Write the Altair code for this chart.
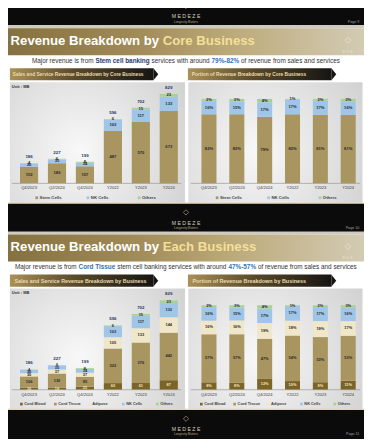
import altair as alt
import pandas as pd

# ---------------- data ----------------
periods = ["Q4/2023", "Q2/2024", "Q4/2024", "Y2022", "Y2023", "Y2024"]

core_series = ["Stem Cells", "NK Cells", "Others"]
core_stem_cells = [152, 186, 157, 487, 570, 673]
core_nk_cells = [30, 35, 34, 103, 117, 133]
core_others = [4, 6, 8, 6, 15, 23]
core_totals = [186, 227, 199, 596, 702, 829]
core_pct_stem_cells = ["82%", "82%", "79%", "82%", "81%", "81%"]
core_pct_nk_cells = ["16%", "15%", "17%", "17%", "17%", "16%"]
core_pct_others = ["2%", "3%", "4%", "1%", "2%", "3%"]

each_series = ["Cord Blood", "Cord Tissue", "Adipose", "NK Cells", "Others"]
each_cord_blood = [16, 19, 25, 60, 61, 87]
each_cord_tissue = [106, 130, 95, 322, 376, 442]
each_adipose = [30, 37, 37, 105, 133, 144]
each_nk_cells = [30, 35, 34, 103, 117, 133]
each_others = [4, 6, 8, 6, 15, 23]
each_totals = [186, 227, 199, 596, 702, 829]
each_pct_cord_blood = ["8%", "8%", "12%", "10%", "9%", "11%"]
each_pct_cord_tissue = ["57%", "57%", "47%", "54%", "53%", "53%"]
each_pct_adipose = ["16%", "16%", "19%", "18%", "19%", "17%"]
each_pct_nk_cells = ["16%", "15%", "17%", "17%", "17%", "16%"]
each_pct_others = ["2%", "3%", "4%", "1%", "2%", "3%"]

# ---------------- layout helpers ----------------
W, H = 356, 431
SX, SY = W / 372, H / 447
SF = min(SX, SY)
def X(v): return round(v * SX, 2)
def Y(v): return round(v * SY, 2)
def F(v): return round(v * SF, 2)

FONT = "Liberation Sans"
one = pd.DataFrame({"k": [0]})

REG = {c: 556 for c in "0123456789"}
REG.update({" ": 278, "%": 889, "-": 333, ".": 278, ":": 278, "/": 278})
REG.update(dict(zip("ABCDEFGHIJKLMNOPQRSTUVWXYZ",
    [667,667,722,722,667,611,778,722,278,500,667,556,833,722,778,667,778,722,667,611,722,667,944,667,667,611])))
REG.update(dict(zip("abcdefghijklmnopqrstuvwxyz",
    [556,556,500,556,556,278,556,556,222,222,500,222,833,556,556,556,556,333,500,278,556,500,722,500,500,500])))
BOLD = {c: 556 for c in "0123456789"}
BOLD.update({" ": 278, "%": 889, "-": 333, ".": 278, ":": 333, "/": 278})
BOLD.update(dict(zip("ABCDEFGHIJKLMNOPQRSTUVWXYZ",
    [722,722,722,722,667,611,778,722,278,556,722,611,833,722,778,667,778,722,667,611,722,667,944,667,667,611])))
BOLD.update(dict(zip("abcdefghijklmnopqrstuvwxyz",
    [556,611,556,611,556,333,611,611,278,278,556,278,889,611,611,611,611,389,556,333,611,556,778,556,556,500])))

def em(s, bold):
    t = BOLD if bold else REG
    return sum(t.get(c, 556) for c in s) / 1000.0

def rect(x0, x1, y0, y1, fill):
    return alt.Chart(one).mark_rect(fill=fill).encode(
        x=alt.value(X(x0)), x2=alt.value(X(x1)), y=alt.value(Y(y0)), y2=alt.value(Y(y1)))

def text(x, y, s, size, color, bold=False, align="left", baseline="middle", opacity=1):
    return alt.Chart(one).mark_text(text=s, font=FONT, fontSize=F(size), color=color,
        fontWeight="bold" if bold else "normal", align=align, baseline=baseline, opacity=opacity).encode(
        x=alt.value(X(x)), y=alt.value(Y(y)))

def rich(segments, y, size, cx=None, xl=None, baseline="middle"):
    fs = F(size)
    widths = [em(t, b) * fs for t, b, c in segments]
    x = X(cx) - sum(widths) / 2 if cx is not None else X(xl)
    out = []
    for (t, b, c), w in zip(segments, widths):
        lead = len(t) - len(t.lstrip(" "))
        out.append(alt.Chart(one).mark_text(text=t.strip(" "), font=FONT, fontSize=fs, color=c,
            fontWeight="bold" if b else "normal", align="left", baseline=baseline).encode(
            x=alt.value(round(x + em(" " * lead, b) * fs, 2)), y=alt.value(Y(y))))
        x += w
    return out

def grad(stops, x1=0, x2=1, y1=0, y2=0):
    return alt.LinearGradient(gradient="linear", x1=x1, x2=x2, y1=y1, y2=y2,
        stops=[alt.GradientStop(offset=o, color=c) for o, c in stops])

C_STEM, C_NK, C_OTH, C_CB, C_AD = "#a8955f", "#9fc5e8", "#a9d18e", "#7b6426", "#f0e7c8"
NAVY = "#1f3864"

GOLD_BAR = grad([(0, "#85713f"), (0.35, "#a08a57"), (0.62, "#bba978"), (1, "#d3cbb4")])
ARROW = grad([(0, "#ab9057"), (0.45, "#5a4a2a"), (1, "#161513")])
PANEL = alt.RadialGradient(gradient="radial", x1=0.4, y1=0.55, r1=0, x2=0.4, y2=0.55, r2=0.8,
    stops=[alt.GradientStop(offset=0, color="#f8f8f8"), alt.GradientStop(offset=1, color="#cdcdcd")])

layers = []

def black_band(y0, y1, icon_y, page):
    L = [rect(0, 372, y0, y1, "#0b0b0b")]
    L.append(alt.Chart(one).mark_point(shape="diamond", filled=False, color="#cdbf95", size=F(5.5) ** 2,
        strokeWidth=0.8).encode(x=alt.value(X(186)), y=alt.value(Y(icon_y))))
    L.append(text(186, icon_y + 10.5, "M E D E Z E", 5.4, "#d9d0bb", align="center"))
    L.append(text(186, icon_y + 16, "Longevity Matters", 3.2, "#b4a585", align="center"))
    L.append(text(367, icon_y + 16, page, 3.8, "#a0a0a0", align="right"))
    return L

def slide_header(off, gold_word, seg_sub, arrows):
    L = [rect(0, 372, 18 + off, 21 + off, "#cfcbc0"), rect(0, 372, 21 + off, 49 + off, GOLD_BAR)]
    L += rich([("Revenue Breakdown by ", True, "#ffffff"), (gold_word, True, "#f4df9a")],
              38.5 + off, 13.75, xl=2.7, baseline="alphabetic")
    L.append(alt.Chart(one).mark_point(shape="diamond", filled=False, color="#efe7cf", size=F(6) ** 2,
        strokeWidth=0.8, opacity=0.8).encode(x=alt.value(X(355)), y=alt.value(Y(33.5 + off))))
    L.append(text(355, 45.5 + off, "E D E", 4, "#efe7cf", align="center", opacity=0.8))
    L += rich(seg_sub, 54.5 + off, 6.68, cx=186)
    for (x0, t, x_t, w_t) in arrows:
        L.append(rect(x0, x0 + 150, 62.5 + off, 75 + off, ARROW))
        L.append(alt.Chart(one).mark_point(shape="M0,-1L0.8,0L0,1Z", filled=True, color="#161513",
            size=F(12.5) ** 2, opacity=1).encode(x=alt.value(X(x0 + 150)), y=alt.value(Y(68.75 + off))))
        fs = w_t / em(t, True)
        L.append(text(x_t, 69 + off, t, fs, "#eadcb0", bold=True))
    return L

def value_chart(series, cols, colors, tcolors, totals, off, lab_size):
    rows = []
    for i, p in enumerate(periods):
        for j, s in enumerate(series):
            rows.append({"cat": p, "series": s, "ord": j, "value": cols[j][i], "label": str(cols[j][i])})
    df = pd.DataFrame(rows)
    xs = alt.Scale(type="band", domain=periods, range=[X(7.4), X(182.6)], paddingInner=0.35, paddingOuter=0.175)
    ys = alt.Scale(domain=[0, 829], range=[Y(181.7 + off), Y(89.3 + off)], nice=False, zero=True)
    base = alt.Chart(df).transform_stack(stack="value", groupby=["cat"],
        sort=[alt.SortField(field="ord", order="ascending")], as_=["y0", "y1"]).transform_calculate(
        mid="(datum.y0 + datum.y1) / 2")
    L = [base.mark_bar().encode(
        x=alt.X("cat:N", scale=xs, axis=None), y=alt.Y("y0:Q", scale=ys, axis=None), y2="y1:Q",
        color=alt.Color("series:N", scale=alt.Scale(domain=series, range=colors), legend=None))]
    L.append(base.mark_text(font=FONT, fontSize=F(lab_size), fontWeight="bold").encode(
        x=alt.X("cat:N", scale=xs, axis=None), y=alt.Y("mid:Q", scale=ys, axis=None), text="label:N",
        color=alt.Color("series:N", scale=alt.Scale(domain=series, range=tcolors), legend=None)))
    tdf = pd.DataFrame({"cat": periods, "total": totals})
    L.append(alt.Chart(tdf).mark_text(font=FONT, fontSize=F(4.6), fontWeight="bold", color=NAVY,
        dy=-F(6.5)).encode(x=alt.X("cat:N", scale=xs, axis=None),
        y=alt.Y("total:Q", scale=ys, axis=None), text="total:Q"))
    L.append(alt.Chart(pd.DataFrame({"cat": periods})).mark_text(font=FONT, fontSize=F(4.3),
        color="#3a3a3a").encode(x=alt.X("cat:N", scale=xs, axis=None), y=alt.value(Y(187 + off)), text="cat:N"))
    return L

def pct_chart(series, cols, pcts, colors, tcolors, off, lab_size):
    rows = []
    for i, p in enumerate(periods):
        for j, s in enumerate(series):
            rows.append({"cat": p, "series": s, "ord": j, "value": cols[j][i], "label": pcts[j][i]})
    df = pd.DataFrame(rows)
    xs = alt.Scale(type="band", domain=periods, range=[X(195.45), X(370.05)], paddingInner=0.46, paddingOuter=0.23)
    ys = alt.Scale(domain=[0, 1], range=[Y(181.7 + off), Y(94.3 + off)], nice=False, zero=True)
    base = alt.Chart(df).transform_stack(stack="value", groupby=["cat"], offset="normalize",
        sort=[alt.SortField(field="ord", order="ascending")], as_=["y0", "y1"]).transform_calculate(
        mid="(datum.y0 + datum.y1) / 2")
    L = [base.mark_bar().encode(
        x=alt.X("cat:N", scale=xs, axis=None), y=alt.Y("y0:Q", scale=ys, axis=None), y2="y1:Q",
        color=alt.Color("series:N", scale=alt.Scale(domain=series, range=colors), legend=None))]
    L.append(base.mark_text(font=FONT, fontSize=F(lab_size), fontWeight="bold").encode(
        x=alt.X("cat:N", scale=xs, axis=None), y=alt.Y("mid:Q", scale=ys, axis=None), text="label:N",
        color=alt.Color("series:N", scale=alt.Scale(domain=series, range=tcolors), legend=None)))
    L.append(alt.Chart(pd.DataFrame({"cat": periods})).mark_text(font=FONT, fontSize=F(4.3),
        color="#3a3a3a").encode(x=alt.X("cat:N", scale=xs, axis=None), y=alt.value(Y(187 + off)), text="cat:N"))
    return L

def legend(series, colors, x0, x1, y, size):
    d = pd.DataFrame({"series": series})
    xs = alt.Scale(type="point", domain=series, range=[X(x0), X(x1)], padding=0)
    cs = alt.Scale(domain=series, range=colors)
    return [
        alt.Chart(d).mark_square(size=F(2.8) ** 2, opacity=1).encode(
            x=alt.X("series:N", scale=xs, axis=None), y=alt.value(Y(y)),
            color=alt.Color("series:N", scale=cs, legend=None)),
        alt.Chart(d).mark_text(font=FONT, fontSize=F(size), fontWeight="bold", color="#444444",
            align="left", dx=F(3)).encode(x=alt.X("series:N", scale=xs, axis=None), y=alt.value(Y(y)),
            text="series:N"),
    ]

def panels(off):
    L = [rect(2, 185, 77 + off, 202 + off, PANEL), rect(188.5, 370.5, 77 + off, 202 + off, PANEL),
         rect(0, 372, 201.6 + off, 203 + off, "#e2d5ad")]
    for a, b in [(4, 181), (191, 368)]:
        L.append(alt.Chart(one).mark_rule(color="#9a9a9a", strokeWidth=0.7).encode(
            x=alt.value(X(a)), x2=alt.value(X(b)), y=alt.value(Y(181.9 + off))))
    L.append(text(4, 82 + off, "Unit : MB", 4.2, "#333333", bold=True))
    return L

# ---------------- slide 1 ----------------
layers += black_band(-11, 18, -2, "Page 9")
layers += slide_header(0, "Core Business",
    [("Major revenue is from ", False, "#333333"), ("Stem cell banking", True, "#1f3b73"),
     (" services with around ", False, "#333333"), ("79%-82%", True, "#2e74b5"),
     (" of revenue from sales and services", False, "#333333")],
    [(2, "Sales and Service Revenue Breakdown by Core Business", 5, 137),
     (188, "Portion of Revenue Breakdown by Core Business", 192, 120)])
layers += panels(0)
core_cols = [core_stem_cells, core_nk_cells, core_others]
core_pcts = [core_pct_stem_cells, core_pct_nk_cells, core_pct_others]
core_colors = [C_STEM, C_NK, C_OTH]
core_tcol = ["#2a2a2a", "#2a2a2a", "#2a2a2a"]
layers += value_chart(core_series, core_cols, core_colors, core_tcol, core_totals, 0, 4.3)
layers += pct_chart(core_series, core_cols, core_pcts, core_colors, core_tcol, 0, 4.3)
layers += legend(core_series, core_colors, 30, 137, 196.8, 4.5)
layers += legend(core_series, core_colors, 218.5, 326, 196.8, 4.5)

# ---------------- slide 2 ----------------
O = 214
layers += black_band(-11 + O, 18 + O, -2 + O, "Page 10")
layers += slide_header(O, "Each Business",
    [("Major revenue is from ", False, "#333333"), ("Cord Tissue", True, "#2e75b6"),
     (" stem cell banking services with around ", False, "#333333"), ("47%-57%", True, "#2e75b6"),
     (" of revenue from sales and services", False, "#333333")],
    [(2, "Sales and Service Revenue Breakdown by Business", 6.7, 138),
     (188, "Portion of Revenue Breakdown by Business", 192.7, 119)])
layers += panels(O)
each_cols = [each_cord_blood, each_cord_tissue, each_adipose, each_nk_cells, each_others]
each_pcts = [each_pct_cord_blood, each_pct_cord_tissue, each_pct_adipose, each_pct_nk_cells, each_pct_others]
each_colors = [C_CB, C_STEM, C_AD, C_NK, C_OTH]
each_tcol = ["#efe3bd", "#2a2a2a", "#2a2a2a", "#2a2a2a", "#2a2a2a"]
layers += value_chart(each_series, each_cols, each_colors, each_tcol, each_totals, O, 4.1)
layers += pct_chart(each_series, each_cols, each_pcts, each_colors, each_tcol, O, 4.1)
layers += legend(each_series, each_colors, 14, 156, 196.8 + O, 4.1)
layers += legend(each_series, each_colors, 202, 341.5, 196.8 + O, 4.1)

# ---------------- slide 3 band ----------------
layers += black_band(-11 + 2 * O, 18 + 2 * O + 30, -2 + 2 * O, "Page 11")

chart = alt.layer(*layers).resolve_scale(
    x="independent", y="independent", color="independent"
).properties(
    width=W, height=H, padding=0, autosize=alt.AutoSizeParams(type="none")
).configure_view(strokeWidth=0)

chart.save("out.html", embed_options={"renderer": "svg", "actions": False})
